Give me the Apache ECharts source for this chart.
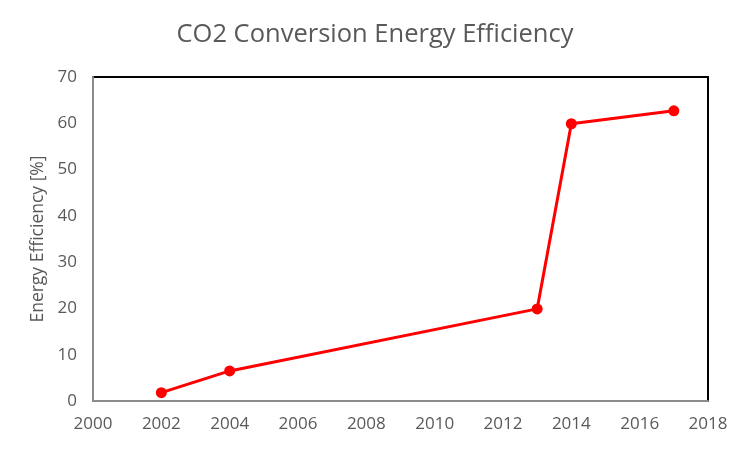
<!DOCTYPE html>
<html>
<head>
<meta charset="utf-8">
<script src="https://cdn.jsdelivr.net/npm/echarts@6/dist/echarts.min.js"></script>
<style>html,body{margin:0;padding:0;background:#fff}#c{width:750px;height:450px}</style>
</head>
<body>
<div id="c"></div>
<script>
const years = [2002, 2004, 2013, 2014, 2017];
const efficiency = [1.8, 6.5, 19.9, 59.9, 62.7];
const titleText = 'CO2 Conversion Energy Efficiency';
const yAxisName = 'Energy Efficiency [%]';

const chart = echarts.init(document.getElementById('c'));
const font = 'Open Sans, Liberation Sans, sans-serif';
chart.setOption({
  animation: false,
  title: {
    text: titleText, left: 'center', top: 17,
    textStyle: {fontFamily: font, fontSize: 25.5, fontWeight: 'normal', color: '#595959'}
  },
  grid: {left: 93, right: 42, top: 77, bottom: 49, show: true, borderColor: '#000', borderWidth: 2, backgroundColor: '#fff'},
  xAxis: {
    type: 'value', min: 2000, max: 2018, interval: 2,
    axisLine: {show: true, onZero: false, lineStyle: {color: '#8c8c8c', width: 2}},
    axisTick: {show: false},
    splitLine: {show: false},
    axisLabel: {fontFamily: font, fontSize: 17, color: '#595959', margin: 15, formatter: v => String(v)}
  },
  yAxis: {
    type: 'value', min: 0, max: 70, interval: 10,
    name: yAxisName, nameLocation: 'middle', nameGap: 43,
    nameTextStyle: {fontFamily: font, fontSize: 17.5, color: '#595959'},
    axisLine: {show: true, lineStyle: {color: '#8c8c8c', width: 2}},
    axisTick: {show: false},
    splitLine: {show: false},
    axisLabel: {fontFamily: font, fontSize: 17, color: '#595959', margin: 16}
  },
  series: [{
    type: 'line',
    data: years.map((y, i) => [y, efficiency[i]]),
    symbol: 'circle', symbolSize: 11,
    lineStyle: {color: '#ff0000', width: 3},
    itemStyle: {color: '#ff0000'}
  }]
});
</script>
</body>
</html>
